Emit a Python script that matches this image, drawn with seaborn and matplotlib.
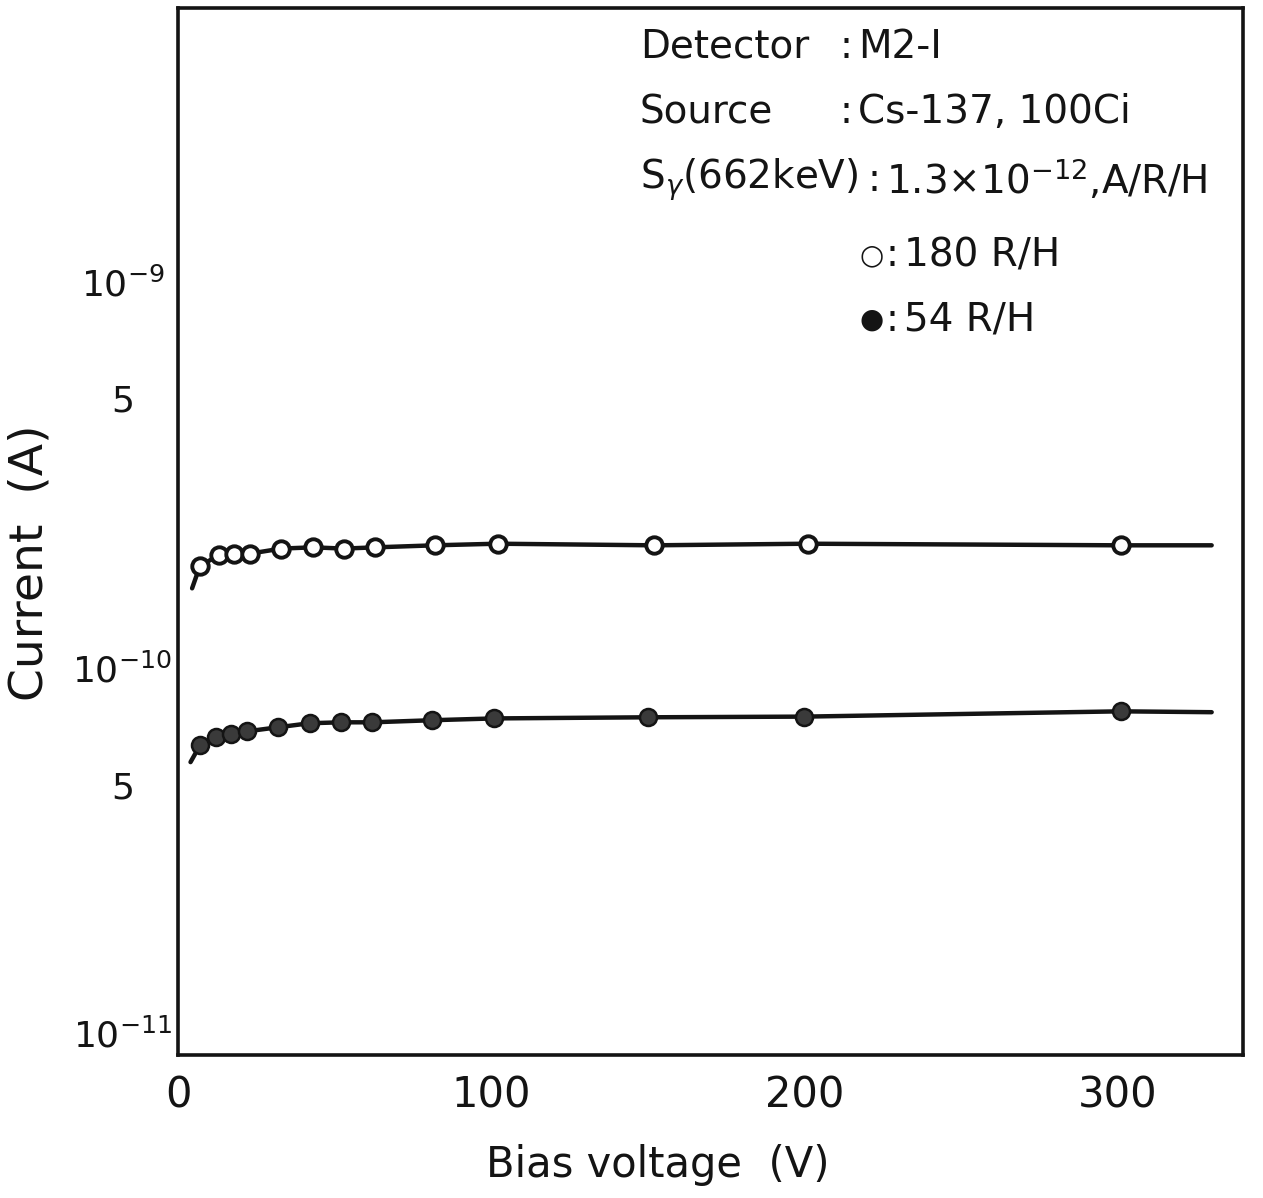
import matplotlib
matplotlib.use("Agg")
import matplotlib.pyplot as plt
import seaborn as sns
import pandas as pd

# -----------------------------
# data
# -----------------------------
# 180 R/H (open circles)
v_180 = [7, 13, 18, 23, 33, 43, 53, 63, 82, 102, 152, 201, 301]
i_180 = [1.84e-10, 1.96e-10, 1.98e-10, 1.98e-10, 2.04e-10, 2.055e-10, 2.04e-10,
         2.055e-10, 2.08e-10, 2.10e-10, 2.08e-10, 2.10e-10, 2.08e-10]
# 54 R/H (filled circles)
v_54 = [7, 12, 17, 22, 32, 42, 52, 62, 81, 101, 150, 200, 301]
i_54 = [6.32e-11, 6.63e-11, 6.75e-11, 6.87e-11, 7.04e-11, 7.21e-11, 7.25e-11,
        7.25e-11, 7.34e-11, 7.42e-11, 7.47e-11, 7.50e-11, 7.74e-11]
# drawn curves reach a bit beyond the first / last measured point
curve_v_start = [4.5, 4]
curve_i_start = [1.61e-10, 5.72e-11]
curve_v_end = [330, 330]
curve_i_end = [2.08e-10, 7.70e-11]

x_ticks = [0, 100, 200, 300]
y_ticks = [1e-11, 5e-11, 1e-10, 5e-10, 1e-9]
y_ticklabels = [r"$10^{-11}$", "5", r"$10^{-10}$", "5", r"$10^{-9}$"]

info_keys = ["Detector", "Source", r"S$_{\gamma}$(662keV)"]
info_vals = ["M2-I", "Cs-137, 100Ci", r"1.3×10$^{-12}$,A/R/H"]
legend_rows = [("○", "180 R/H"), ("●", "54 R/H")]

# -----------------------------
# build frames
# -----------------------------
df_180 = pd.DataFrame({"V": v_180, "I": i_180})
df_54 = pd.DataFrame({"V": v_54, "I": i_54})
line_180 = pd.DataFrame({"V": [curve_v_start[0]] + v_180 + [curve_v_end[0]],
                         "I": [curve_i_start[0]] + i_180 + [curve_i_end[0]]})
line_54 = pd.DataFrame({"V": [curve_v_start[1]] + v_54 + [curve_v_end[1]],
                        "I": [curve_i_start[1]] + i_54 + [curve_i_end[1]]})

sns.set_theme(style="white")
plt.rcParams["font.family"] = ["DejaVu Sans"]
plt.rcParams["mathtext.fontset"] = "dejavusans"

fig = plt.figure(figsize=(12.63, 11.98), dpi=100)
ax = fig.add_axes([178 / 1263, 1 - 1055 / 1198, (1243 - 178) / 1263, (1055 - 8) / 1198])

ink = "#141414"
for ln in (line_180, line_54):
    sns.lineplot(data=ln, x="V", y="I", ax=ax, color=ink, lw=3.2,
                 sort=False, estimator=None, zorder=2)

sns.scatterplot(data=df_180, x="V", y="I", ax=ax, marker="o", s=140,
                facecolor="white", edgecolor=ink, linewidth=2.8, zorder=3)
sns.scatterplot(data=df_54, x="V", y="I", ax=ax, marker="o", s=150,
                color="#3a3a3a", edgecolor=ink, linewidth=1.8, zorder=3)

ax.set_yscale("log")
ax.set_xlim(0, 340)
ax.set_ylim(1e-11, 5.1e-9)

ax.set_xticks(x_ticks)
ax.set_xticklabels([str(t) for t in x_ticks], fontsize=30)
ax.set_yticks(y_ticks)
ax.set_yticklabels(y_ticklabels, fontsize=26)
ax.minorticks_off()
ax.tick_params(axis="x", direction="in", length=16, width=2.5, pad=14, colors=ink)
ax.tick_params(axis="y", direction="in", length=14, width=2.5, pad=40, colors=ink)
for lab in ax.get_yticklabels():
    lab.set_horizontalalignment("center")
# the bottom label sits a little above the corner, clear of the "0"
ax.get_yticklabels()[0].set_verticalalignment("bottom")

for sp in ax.spines.values():
    sp.set_linewidth(2.6)
    sp.set_color(ink)

ax.set_xlabel("Bias voltage  (V)", fontsize=30, color=ink)
ax.xaxis.set_label_coords(0.45, -0.105)
ax.xaxis.label.set_verticalalignment("center")
ax.set_ylabel("Current  (A)", fontsize=34, color=ink)
ax.yaxis.set_label_coords(-0.139, 0.47)
ax.yaxis.label.set_verticalalignment("center")

# -----------------------------
# annotation block (top right)
# -----------------------------
row_y = [47, 112, 180]
col_x = [840, 840, 868]
for key, val, yy, cx in zip(info_keys, info_vals, row_y, col_x):
    ax.text(640 / 1263, 1 - yy / 1198, key, transform=fig.transFigure,
            fontsize=28, va="center", ha="left", color=ink)
    ax.text(cx / 1263, 1 - yy / 1198, ":", transform=fig.transFigure,
            fontsize=28, va="center", ha="left", color=ink)
    ax.text((cx + 18) / 1263, 1 - yy / 1198, val, transform=fig.transFigure,
            fontsize=28, va="center", ha="left", color=ink)

for (sym, lab), yy in zip(legend_rows, [255, 320]):
    ax.text(872 / 1263, 1 - yy / 1198, sym, transform=fig.transFigure,
            fontsize=20, va="center", ha="center", color=ink)
    ax.text(886 / 1263, 1 - yy / 1198, ":", transform=fig.transFigure,
            fontsize=28, va="center", ha="left", color=ink)
    ax.text(904 / 1263, 1 - yy / 1198, lab, transform=fig.transFigure,
            fontsize=28, va="center", ha="left", color=ink)

fig.savefig("out.png", dpi=100, facecolor="white")
